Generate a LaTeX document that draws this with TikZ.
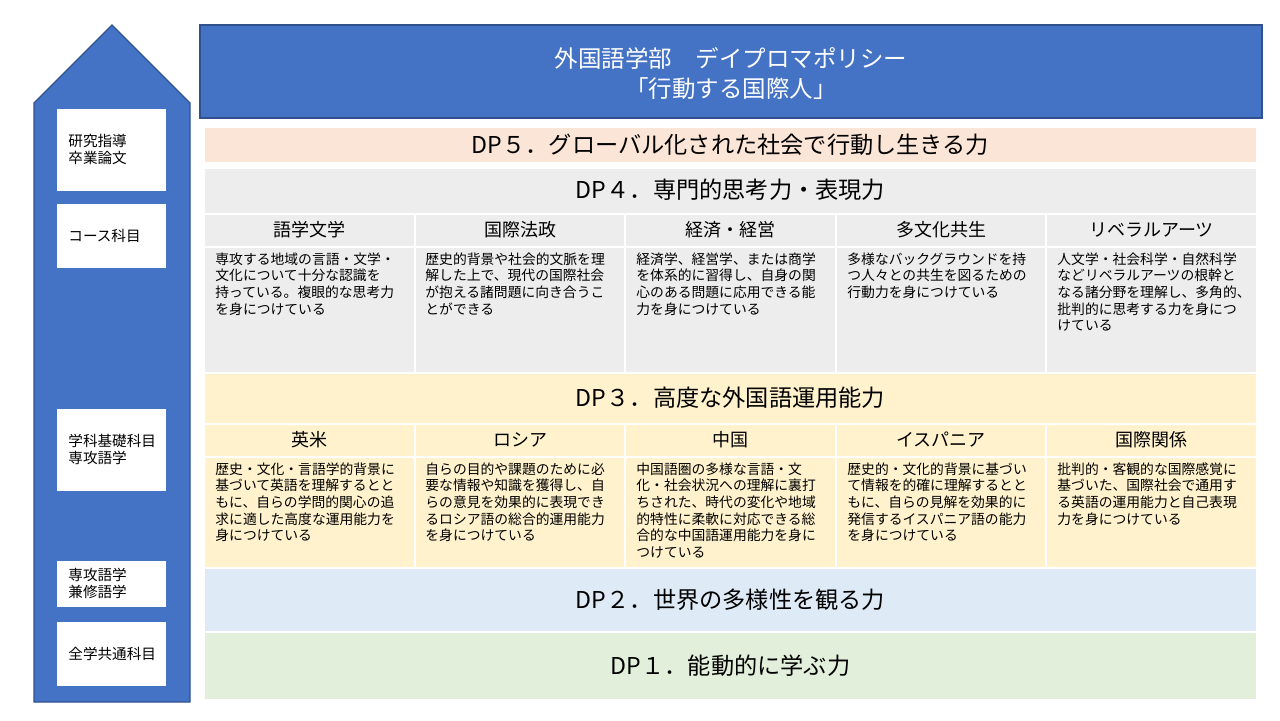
\documentclass[tikz,border=0pt]{standalone}
\usepackage{fontspec}
\setmainfont{Noto Sans CJK JP}
\definecolor{dpblue}{HTML}{4472C4}
\definecolor{dpedge}{HTML}{2F528F}
\definecolor{dpfive}{HTML}{FBE5D6}
\definecolor{dpfour}{HTML}{EDEDED}
\definecolor{dpthree}{HTML}{FFF2CC}
\definecolor{dptwo}{HTML}{DEEBF7}
\definecolor{dpone}{HTML}{E2EFDA}
\begin{document}
\begin{tikzpicture}[x=0.5pt,y=-0.5pt,
    cell/.style={draw=white,line width=0.6pt},
    sidebox/.style={fill=white,draw=white},
    sidetext/.style={anchor=west,align=left,inner sep=0pt,font=\fontsize{7.3}{8.5}\selectfont},
    dptitle/.style={font=\fontsize{11.6}{14}\selectfont},
    colhead/.style={font=\fontsize{9}{11}\selectfont},
    bodytext/.style={anchor=north west,align=left,inner sep=0pt,font=\fontsize{6.9}{8.35}\selectfont}]
    \useasboundingbox (0,0) rectangle (1280,720);
    % pillar on the left
    \draw[fill=dpblue,draw=dpedge,line width=0.6pt] (34,702) -- (34,103) -- (112,25) -- (190,103) -- (190,702) -- cycle;
    \draw[sidebox] (57,109) rectangle (165,190); \draw(68,149.5) node[sidetext] (kenkyu) {研究指導\\卒業論文};
    \draw[sidebox] (57,204) rectangle (165,267); \draw(68,235.5) node[sidetext] (course) {コース科目};
    \draw[sidebox] (57,409) rectangle (165,490); \draw(68,449.5) node[sidetext] (kiso) {学科基礎科目\\専攻語学};
    \draw[sidebox] (57,561) rectangle (165,606); \draw(68,583.5) node[sidetext] (senkou) {専攻語学\\兼修語学};
    \draw[sidebox] (57,622) rectangle (165,685); \draw(68,653.5) node[sidetext] (zengaku) {全学共通科目};
    % title
    \draw[fill=dpblue,draw=dpedge,line width=0.6pt] (200,25) rectangle (1262,118);
    \draw(731,73) node[align=center,text=white,font=\fontsize{11.75}{15}\selectfont] (title) {外国語学部　デイプロマポリシー\\「行動する国際人」};
    % DP5
    \draw[cell,fill=dpfive] (204,127) rectangle (1257,163); \draw(730.5,145) node[dptitle] (dp5) {DP５．グローバル化された社会で行動し生きる力};
    % DP4
    \draw[cell,fill=dpfour] (204,168) rectangle (1257,214); \draw(730.5,190) node[dptitle] (dp4) {DP４．専門的思考力・表現力};
    \draw[cell,fill=dpfour] (204,214) rectangle (415,247); \draw(309.5,230) node[colhead] (gogaku) {語学文学};
    \draw[cell,fill=dpfour] (415,214) rectangle (625,247); \draw(520,230) node[colhead] (housei) {国際法政};
    \draw[cell,fill=dpfour] (625,214) rectangle (836,247); \draw(730.5,230) node[colhead] (keizai) {経済・経営};
    \draw[cell,fill=dpfour] (836,214) rectangle (1046,247); \draw(941,230) node[colhead] (tabunka) {多文化共生};
    \draw[cell,fill=dpfour] (1046,214) rectangle (1257,247); \draw(1151.5,230) node[colhead] (liberal) {リベラルアーツ};
    \draw[cell,fill=dpfour] (204,247) rectangle (415,373); \draw(215,252) node[bodytext] (gogakutext) {専攻する地域の言語・文学・\\文化について十分な認識を\\持っている。複眼的な思考力\\を身につけている};
    \draw[cell,fill=dpfour] (415,247) rectangle (625,373); \draw(425,252) node[bodytext] (houseitext) {歴史的背景や社会的文脈を理\\解した上で、現代の国際社会\\が抱える諸問題に向き合うこ\\とができる};
    \draw[cell,fill=dpfour] (625,247) rectangle (836,373); \draw(636,252) node[bodytext] (keizaitext) {経済学、経営学、または商学\\を体系的に習得し、自身の関\\心のある問題に応用できる能\\力を身につけている};
    \draw[cell,fill=dpfour] (836,247) rectangle (1046,373); \draw(847,252) node[bodytext] (tabunkatext) {多様なバックグラウンドを持\\つ人々との共生を図るための\\行動力を身につけている};
    \draw[cell,fill=dpfour] (1046,247) rectangle (1257,373); \draw(1057,252) node[bodytext] (liberaltext) {人文学・社会科学・自然科学\\などリベラルアーツの根幹と\\なる諸分野を理解し、多角的、\\批判的に思考する力を身につ\\けている};
    % DP3
    \draw[cell,fill=dpthree] (204,373) rectangle (1257,424); \draw(730.5,397.5) node[dptitle] (dp3) {DP３．高度な外国語運用能力};
    \draw[cell,fill=dpthree] (204,424) rectangle (415,457); \draw(309.5,440) node[colhead] (eibei) {英米};
    \draw[cell,fill=dpthree] (415,424) rectangle (625,457); \draw(520,440) node[colhead] (russia) {ロシア};
    \draw[cell,fill=dpthree] (625,424) rectangle (836,457); \draw(730.5,440) node[colhead] (china) {中国};
    \draw[cell,fill=dpthree] (836,424) rectangle (1046,457); \draw(941,440) node[colhead] (hispania) {イスパニア};
    \draw[cell,fill=dpthree] (1046,424) rectangle (1257,457); \draw(1151.5,440) node[colhead] (kankei) {国際関係};
    \draw[cell,fill=dpthree] (204,457) rectangle (415,568); \draw(215,462) node[bodytext] (eibeitext) {歴史・文化・言語学的背景に\\基づいて英語を理解するとと\\もに、自らの学問的関心の追\\求に適した高度な運用能力を\\身につけている};
    \draw[cell,fill=dpthree] (415,457) rectangle (625,568); \draw(425,462) node[bodytext] (russiatext) {自らの目的や課題のために必\\要な情報や知識を獲得し、自\\らの意見を効果的に表現でき\\るロシア語の総合的運用能力\\を身につけている};
    \draw[cell,fill=dpthree] (625,457) rectangle (836,568); \draw(636,462) node[bodytext] (chinatext) {中国語圏の多様な言語・文\\化・社会状況への理解に裏打\\ちされた、時代の変化や地域\\的特性に柔軟に対応できる総\\合的な中国語運用能力を身に\\つけている};
    \draw[cell,fill=dpthree] (836,457) rectangle (1046,568); \draw(847,462) node[bodytext] (hispaniatext) {歴史的・文化的背景に基づい\\て情報を的確に理解するとと\\もに、自らの見解を効果的に\\発信するイスパニア語の能力\\を身につけている};
    \draw[cell,fill=dpthree] (1046,457) rectangle (1257,568); \draw(1057,462) node[bodytext] (kankeitext) {批判的・客観的な国際感覚に\\基づいた、国際社会で通用す\\る英語の運用能力と自己表現\\力を身につけている};
    % DP2, DP1
    \draw[cell,fill=dptwo] (204,568) rectangle (1257,632); \draw(730.5,600) node[dptitle] (dp2) {DP２．世界の多様性を観る力};
    \draw[cell,fill=dpone] (204,632) rectangle (1257,700); \draw(730.5,666) node[dptitle] (dp1) {DP１．能動的に学ぶ力};
  \end{tikzpicture}
\end{document}
